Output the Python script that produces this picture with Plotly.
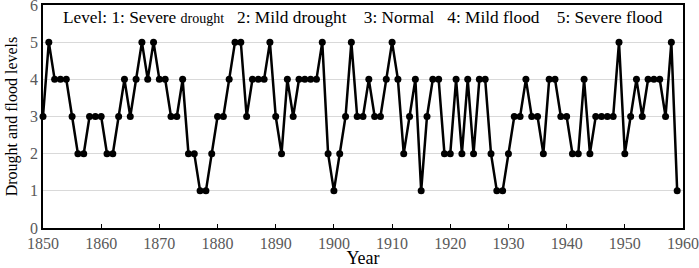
import plotly.graph_objects as go

years = list(range(1850, 1960))
levels = [
    3, 5, 4, 4, 4, 3, 2, 2, 3, 3,   # 1850-1859
    3, 2, 2, 3, 4, 3, 4, 5, 4, 5,   # 1860-1869
    4, 4, 3, 3, 4, 2, 2, 1, 1, 2,   # 1870-1879
    3, 3, 4, 5, 5, 3, 4, 4, 4, 5,   # 1880-1889
    3, 2, 4, 3, 4, 4, 4, 4, 5, 2,   # 1890-1899
    1, 2, 3, 5, 3, 3, 4, 3, 3, 4,   # 1900-1909
    5, 4, 2, 3, 4, 1, 3, 4, 4, 2,   # 1910-1919
    2, 4, 2, 4, 2, 4, 4, 2, 1, 1,   # 1920-1929
    2, 3, 3, 4, 3, 3, 2, 4, 4, 3,   # 1930-1939
    3, 2, 2, 4, 2, 3, 3, 3, 3, 5,   # 1940-1949
    2, 3, 4, 3, 4, 4, 4, 3, 5, 1,   # 1950-1959
]
x_ticks = [1850, 1860, 1870, 1880, 1890, 1900, 1910, 1920, 1930, 1940, 1950, 1960]
y_ticks = [0, 1, 2, 3, 4, 5, 6]
NB = "\u00a0"
legend_text = ("Level: 1: Severe <span style='font-size:14px'>drought</span>" + NB * 3 +
               "2: Mild drought" + NB * 4 + "3: Normal" + NB * 3 + "4: Mild flood" +
               NB * 4 + "5: Severe flood")

FONT = "Liberation Serif"

fig = go.Figure()
fig.add_trace(go.Scatter(
    x=years, y=levels, mode="lines+markers",
    line=dict(color="black", width=2.5),
    marker=dict(color="black", size=7),
    showlegend=False, cliponaxis=False, hoverinfo="skip",
))

fig.update_layout(
    width=699, height=268,
    margin=dict(l=43, r=16, t=5, b=40, autoexpand=False),
    paper_bgcolor="white", plot_bgcolor="white",
    font=dict(family=FONT, color="black"),
    xaxis=dict(
        range=[1850, 1960], tickvals=x_ticks, ticks="inside", ticklen=4,
        tickcolor="black", tickwidth=1,
        showgrid=False, zeroline=False,
        showline=True, linecolor="black", linewidth=1.5, mirror=True,
        ticklabeloverflow="allow",
        tickfont=dict(family=FONT, size=16, color="#595959"),
        title=dict(text="Year", font=dict(family=FONT, size=18, color="black"), standoff=0),
    ),
    yaxis=dict(
        range=[0, 6], tickvals=y_ticks, ticks="",
        showgrid=True, gridcolor="#d9d9d9", gridwidth=1, zeroline=False,
        showline=True, linecolor="black", linewidth=1.5, mirror=True,
        ticklabeloverflow="allow",
        tickfont=dict(family=FONT, size=16, color="#595959"),
        title=dict(text="Drought and flood levels", font=dict(family=FONT, size=16, color="black"), standoff=8),
    ),
    annotations=[dict(
        x=0.5, y=1 - 12 / 223.0, xref="paper", yref="paper", yanchor="middle", showarrow=False,
        text=legend_text, font=dict(family=FONT, size=17.3, color="black"),
    )],
)

fig.write_html("out.html", config={"displayModeBar": False},
               post_script="document.body.style.margin='0';document.body.style.padding='0';")
